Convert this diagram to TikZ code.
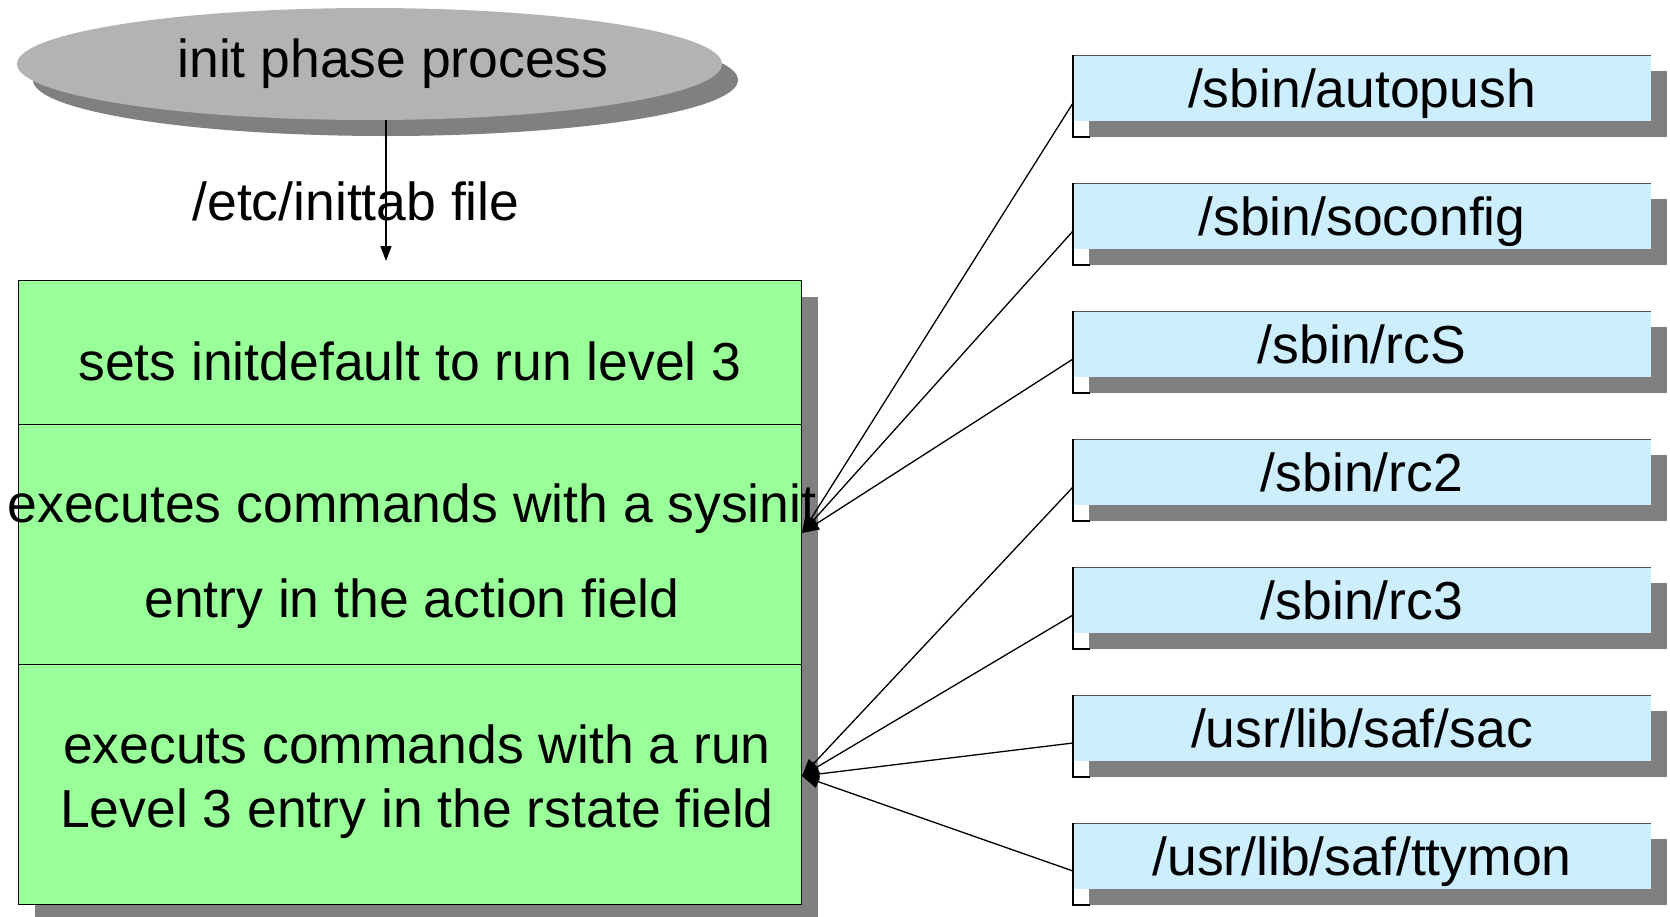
\documentclass[tikz,border=0pt]{standalone}
\usepackage{fontspec}
\setmainfont{Liberation Sans}
\usetikzlibrary{arrows.meta,backgrounds,shapes.geometric}
\definecolor{ovalgrey}{HTML}{B3B3B3}
\definecolor{shadegrey}{HTML}{808080}
\definecolor{stepgreen}{HTML}{99FF99}
\definecolor{filecyan}{HTML}{CCEEFF}
\definecolor{edgegrey}{HTML}{555555}

\begin{document}
\begin{tikzpicture}[x=1pt,y=-1pt,
  every node/.style={font=\fontsize{53.5}{64}\selectfont, inner sep=0pt, outer sep=0pt},
  phaseoval/.style={ellipse, fill=ovalgrey, minimum width=705pt, minimum height=112pt},
  stepsec/.style={rectangle, draw=black, line width=1pt, fill=stepgreen, minimum width=783pt},
  filebox/.style={rectangle, fill=filecyan, minimum width=578pt, minimum height=66pt,
                  text height=38pt, text depth=0pt},
  dropgrey/.style={fill=shadegrey},
  linetext/.style={anchor=base},
  conn/.style={line width=1.3pt, -{Triangle[length=17pt,width=13pt]}},
  feed/.style={line width=1.3pt, -{Triangle[length=15pt,width=11pt]}}
]
\useasboundingbox (0,0) rectangle (1670,916);

% init process oval and the inittab arrow
\node[phaseoval] (init) at (369.5,64) {};
\node[linetext] (initlabel) at (393,77) {init phase process};
\node[linetext] (inittab) at (356,220) {/etc/inittab file};
\coordinate (inittabend) at (386,261);
\draw[feed] (init.south -| inittabend) -- (inittabend);

% the three inittab actions
\node[stepsec, minimum height=144pt] (sec1) at (409.5,352) {};
\node[stepsec, minimum height=240pt] (sec2) at (409.5,544) {};
\node[stepsec, minimum height=240pt] (sec3) at (409.5,784) {};
\node[linetext] (t1)  at (410,380) {sets initdefault to run level 3};
\node[linetext] (t2a) at (412,522) {executes commands with a sysinit};
\node[linetext] (t2b) at (412,617) {entry in the action field};
\node[linetext] (t3a) at (417,763) {executs commands with a run};
\node[linetext] (t3b) at (417,827) {Level 3 entry in the rstate field};

% commands started by init
\foreach \txt [count=\i from 0] in {/sbin/autopush,/sbin/soconfig,/sbin/rcS,/sbin/rc2,/sbin/rc3,/usr/lib/saf/sac,/usr/lib/saf/ttymon} {
  \node[filebox] (f\i) at (1362,{88+128*\i}) {\txt};
}
\foreach \i in {0,...,6} {
  \draw[edgegrey, line width=1pt] (f\i.north west) -- (f\i.north east);
  \draw[black, line width=1.2pt] (f\i.north west) -- ++(0,82) -- ++(17,0);
}

% shadows
\begin{scope}[on background layer]
  \fill[dropgrey] ([shift={(16,16)}]init.center) ellipse [x radius=352.5pt, y radius=56pt];
  \fill[dropgrey] ([shift={(17,17)}]sec1.north west) rectangle ([shift={(17,17)}]sec3.south east);
  \foreach \i in {0,...,6} {
    \fill[dropgrey] ([shift={(16,16)}]f\i.north west) rectangle ([shift={(16,16)}]f\i.south east);
  }
\end{scope}

% connectors
\coordinate (sysinit) at (802,533);
\coordinate (rstate) at (802,776);
\foreach \i in {0,1,2} {
  \draw[conn] ([yshift=-15pt]f\i.west) -- (sysinit);
}
\foreach \i in {3,...,6} {
  \draw[conn] ([yshift=-15pt]f\i.west) -- (rstate);
}
\end{tikzpicture}
\end{document}
